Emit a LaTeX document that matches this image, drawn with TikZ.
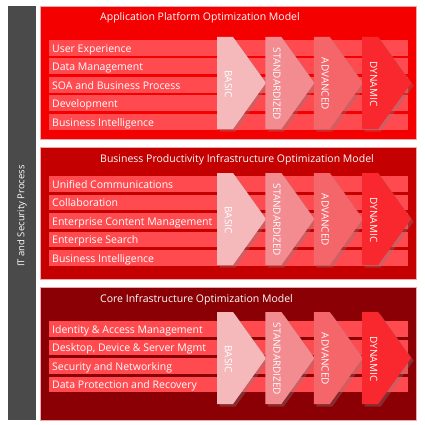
\documentclass[tikz,border=0pt]{standalone}
\usepackage{fontspec}
\setmainfont{Open Sans}
\usetikzlibrary{shadows}
\definecolor{greybar}{RGB}{74,74,74}
\definecolor{panelA}{RGB}{245,0,0}
\definecolor{panelB}{RGB}{196,0,0}
\definecolor{panelC}{RGB}{139,0,5}
\definecolor{rowbar}{RGB}{255,75,80}
\definecolor{chevA}{RGB}{245,185,188}
\definecolor{chevB}{RGB}{242,140,145}
\definecolor{chevC}{RGB}{245,102,107}
\definecolor{chevD}{RGB}{248,40,46}
\definecolor{edge}{RGB}{240,170,172}
\begin{document}
\begin{tikzpicture}[x=1pt,y=-1pt,
  txt/.style={text=white,font=\fontsize{10.5}{12}\selectfont,inner sep=0pt},
  rowtxt/.style={txt,anchor=base west},
  titletxt/.style={txt,anchor=base west},
  chevtxt/.style={txt,font=\fontsize{10}{12}\selectfont,rotate=-90},
  rowfill/.style={fill=rowbar},
  panel/.style={draw=edge,line width=0.6pt},
  chev/.style={drop shadow={opacity=0.35,shadow xshift=2.5pt,shadow yshift=-2.5pt}}]
\useasboundingbox (0,0) rectangle (425,425);
\fill[white] (0,0) rectangle (425,425);
% grey side bar
\fill[greybar] (8,6) rectangle (36,420);
\node[txt,font=\fontsize{9.5}{11}\selectfont,rotate=90] (itsec) at (22,216) {IT and Security Process};
% panels
\newcommand{\mypanel}[5]{%
  % #1 name, #2 top, #3 bottom, #4 colour, #5 title
  \filldraw[panel,fill=#4] (40,#2) rectangle (416,#3);
  \node[titletxt] (#1title) at (100,#2+15) {#5};
}
\mypanel{pa}{6}{139}{panelA}{Application Platform Optimization Model}
\mypanel{pb}{147}{279}{panelB}{Business Productivity Infrastructure Optimization Model}
\mypanel{pc}{287}{420}{panelC}{Core Infrastructure Optimization Model}
% rows
\foreach \t [count=\i from 0] in {User Experience,Data Management,SOA and Business Process,Development,Business Intelligence}{
  \fill[rowfill] (49,40+18.5*\i) rectangle (408,55.7+18.5*\i);
  \node[rowtxt] (pa-row\i) at (52,52.3+18.5*\i) {\t};
}
\foreach \t [count=\i from 0] in {Unified Communications,Collaboration,Enterprise Content Management,Enterprise Search,Business Intelligence}{
  \fill[rowfill] (49,176+18.5*\i) rectangle (408,191.7+18.5*\i);
  \node[rowtxt] (pb-row\i) at (52,188.3+18.5*\i) {\t};
}
\foreach \t [count=\i from 0] in {Identity \& Access Management,{Desktop, Device \& Server Mgmt},Security and Networking,Data Protection and Recovery}{
  \fill[rowfill] (49,321+18.5*\i) rectangle (408,336.7+18.5*\i);
  \node[rowtxt] (pc-row\i) at (52,333.3+18.5*\i) {\t};
}
% chevrons
\foreach \p/\top in {pa/37,pb/173,pc/312}{
  \foreach \lab/\col [count=\j from 0] in {BASIC/chevA,STANDARDIZED/chevB,ADVANCED/chevC,DYNAMIC/chevD}{
    \pgfmathsetmacro{\L}{217+48.4*\j}
    \fill[\col,chev] (\L,\top) -- (\L+16,\top) -- (\L+49,\top+46) -- (\L+16,\top+92) -- (\L,\top+92) -- cycle;
    \node[chevtxt] (\p-chev\j) at (\L+11.5,\top+47) {\lab};
  }
}
\end{tikzpicture}
\end{document}
